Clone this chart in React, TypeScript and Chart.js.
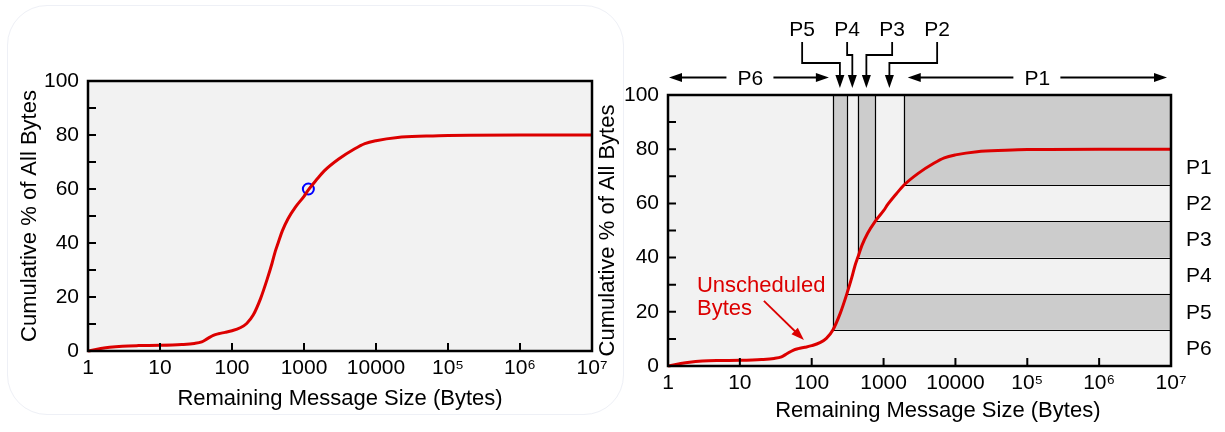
import React, { useEffect, useRef } from 'react';
import { Chart, registerables } from 'chart.js';

Chart.register(...registerables);

const FONT = "'Liberation Sans', Arial, Helvetica, sans-serif";
Chart.defaults.font.family = FONT;
Chart.defaults.color = '#000';

// ---- data ----
const messageSizes = [1, 1.5, 2, 3, 5, 10, 20, 30, 38, 45, 55, 65, 80, 100, 130, 160, 197, 250, 309, 360, 400, 437, 500, 600, 760, 1000, 1150, 1500, 1910, 3000, 5000, 7000, 10000, 20000, 50000, 100000, 1000000, 10000000];
const cumulativePct = [0, 0.9, 1.4, 1.8, 2.0, 2.1, 2.4, 2.8, 3.4, 4.5, 5.8, 6.4, 6.9, 7.5, 8.6, 10.2, 13.3, 19.5, 26.7, 32.5, 37, 40, 44.5, 49, 53.3, 57.3, 59.7, 63.5, 66.7, 71, 74.8, 76.8, 77.9, 79.1, 79.6, 79.85, 80, 80];

const markerSize = [1150];
const markerPct = [60];

const xTickValues = [1, 10, 100, 1000, 10000, 100000, 1000000, 10000000];
const xTickLabels = ['1', '10', '100', '1000', '10000', '10⁵', '10⁶', '10⁷'];
const yTickMarks = [10, 20, 30, 40, 50, 60, 70, 80, 90];

const priorityNames = ['P6', 'P5', 'P4', 'P3', 'P2', 'P1'];
const priorityStartSizes = [1, 197, 309, 437, 760, 1910];
const priorityStartPcts = [0, 13.33, 26.67, 40, 53.33, 66.67];
const priorityTopPct = 80;

const annotationText = ['Unscheduled', 'Bytes'];
const annotationTextAt = { size: 2.53, pct: 27.3 };
const annotationArrowFrom = { size: 21.6, pct: 24 };
const annotationArrowTo = { size: 78, pct: 9.6 };

const RED = '#dc0000';
const LIGHT = '#f2f2f2';
const DARK = '#cccccc';
const TITLE = 'Remaining Message Size (Bytes)';
const YTITLE = 'Cumulative % of All Bytes';

function arrowHead(ctx: CanvasRenderingContext2D, tx: number, ty: number, dx: number, dy: number, len = 13, half = 4.5) {
  const nx = -dy, ny = dx;
  ctx.beginPath();
  ctx.moveTo(tx, ty);
  ctx.lineTo(tx - dx * len + nx * half, ty - dy * len + ny * half);
  ctx.lineTo(tx - dx * len - nx * half, ty - dy * len - ny * half);
  ctx.closePath();
  ctx.fill();
}

function curveData() {
  return messageSizes.map((s, i) => ({ x: s, y: cumulativePct[i] }));
}

function drawFrameAndTicks(chart: any) {
  const { ctx, chartArea: a, scales } = chart;
  const xs = scales.x, ys = scales.y;
  ctx.save();
  ctx.strokeStyle = '#000';
  ctx.lineWidth = 2;
  ctx.beginPath();
  yTickMarks.forEach((v) => {
    const y = ys.getPixelForValue(v);
    ctx.moveTo(a.left, y);
    ctx.lineTo(a.left + 8, y);
  });
  xTickValues.slice(1, -1).forEach((v) => {
    const x = xs.getPixelForValue(v);
    ctx.moveTo(x, a.bottom);
    ctx.lineTo(x, a.bottom - 8);
  });
  ctx.stroke();
  ctx.lineWidth = 2.5;
  ctx.strokeRect(a.left, a.top, a.right - a.left, a.bottom - a.top);
  ctx.restore();
}

function makeScales(yWidth: number, xHeight: number, yTitlePad: number, xTitlePad: number, xTitleText: string) {
  return {
    x: {
      type: 'logarithmic',
      min: 1,
      max: 10000000,
      position: 'bottom',
      afterBuildTicks: (axis: any) => {
        axis.ticks = xTickValues.map((v) => ({ value: v }));
      },
      afterFit: (s: any) => { s.height = xHeight; },
      grid: { display: false, drawTicks: false },
      border: { display: false },
      ticks: {
        autoSkip: false,
        maxRotation: 0,
        padding: 4.5,
        font: { size: 21 },
        color: '#000',
        callback: (v: any) => {
          const i = xTickValues.indexOf(Number(v));
          return i >= 0 ? xTickLabels[i] : '';
        },
      },
      title: { display: true, text: xTitleText, font: { size: 22 }, color: '#000', padding: { top: 0, bottom: xTitlePad } },
    },
    y: {
      type: 'linear',
      min: 0,
      max: 100,
      afterFit: (s: any) => { s.width = yWidth; },
      grid: { display: false, drawTicks: false },
      border: { display: false },
      ticks: {
        stepSize: 10,
        padding: 9,
        font: { size: 21 },
        color: '#000',
        callback: (v: any) => (Number(v) % 20 === 0 ? String(v) : ''),
      },
      title: { display: true, text: YTITLE, font: { size: 22 }, color: '#000', padding: { top: yTitlePad, bottom: 0 } },
    },
  };
}

const leftPlugin = {
  id: 'leftDecor',
  beforeDraw(chart: any) {
    const { ctx, chartArea: a } = chart;
    ctx.save();
    ctx.fillStyle = LIGHT;
    ctx.fillRect(a.left, a.top, a.right - a.left, a.bottom - a.top);
    ctx.restore();
  },
  afterDatasetsDraw(chart: any) {
    drawFrameAndTicks(chart);
  },
};

const rightPlugin = {
  id: 'rightDecor',
  beforeDraw(chart: any) {
    const { ctx, chartArea: a, scales } = chart;
    const xs = scales.x, ys = scales.y;
    ctx.save();
    ctx.fillStyle = LIGHT;
    ctx.fillRect(a.left, a.top, a.right - a.left, a.bottom - a.top);
    for (let i = 1; i < priorityStartSizes.length; i++) {
      const x0 = xs.getPixelForValue(priorityStartSizes[i]);
      const y0 = ys.getPixelForValue(priorityStartPcts[i]);
      ctx.fillStyle = i % 2 === 1 ? DARK : LIGHT;
      ctx.fillRect(x0, a.top, a.right - x0, y0 - a.top);
    }
    ctx.strokeStyle = '#000';
    ctx.lineWidth = 1.2;
    for (let i = 1; i < priorityStartSizes.length; i++) {
      const x0 = Math.round(xs.getPixelForValue(priorityStartSizes[i])) + 0.5;
      const y0 = Math.round(ys.getPixelForValue(priorityStartPcts[i])) + 0.5;
      ctx.beginPath();
      ctx.moveTo(x0, a.top);
      ctx.lineTo(x0, y0);
      ctx.lineTo(a.right, y0);
      ctx.stroke();
    }
    ctx.restore();
  },
  afterDatasetsDraw(chart: any) {
    const { ctx, chartArea: a, scales } = chart;
    const xs = scales.x, ys = scales.y;
    drawFrameAndTicks(chart);
    ctx.save();
    ctx.fillStyle = '#000';
    ctx.strokeStyle = '#000';
    ctx.font = `21px ${FONT}`;
    ctx.textBaseline = 'middle';

    // right-side priority labels
    ctx.textAlign = 'left';
    for (let i = 0; i < priorityNames.length; i++) {
      const lo = priorityStartPcts[i];
      const hi = i + 1 < priorityStartPcts.length ? priorityStartPcts[i + 1] : priorityTopPct;
      ctx.fillText(priorityNames[i], a.right + 15, ys.getPixelForValue((lo + hi) / 2) + 1);
    }

    // wide arrows: P6 and P1
    const bounds = priorityStartSizes.map((s) => xs.getPixelForValue(s)).concat([a.right]);
    const arrowY = a.top - 17.5;
    ctx.lineWidth = 1.8;
    ctx.textAlign = 'center';
    const wide = (idx: number, l: number, r: number) => {
      const mid = (bounds[idx] + bounds[idx + 1]) / 2;
      ctx.fillText(priorityNames[idx], mid, arrowY + 1.5);
      ctx.beginPath();
      ctx.moveTo(l + 10, arrowY);
      ctx.lineTo(mid - 24, arrowY);
      ctx.moveTo(mid + 23, arrowY);
      ctx.lineTo(r - 10, arrowY);
      ctx.stroke();
      arrowHead(ctx, l, arrowY, -1, 0);
      arrowHead(ctx, r, arrowY, 1, 0);
    };
    wide(0, bounds[0] + 1, bounds[1] - 4);
    wide(5, bounds[5] + 4, bounds[6] - 4);

    // elbow arrows for P5..P2
    const tips = [1, 2, 3, 4].map((i) => (bounds[i] + bounds[i + 1]) / 2);
    const center = (tips[0] + tips[3]) / 2 + 5;
    const labelY = a.top - 65;
    const elbowY = [a.top - 32, a.top - 40, a.top - 40, a.top - 32];
    const tipY = a.top - 7;
    for (let k = 0; k < 4; k++) {
      const lx = center + (k - 1.5) * 45;
      ctx.fillText(priorityNames[k + 1], lx, labelY);
      ctx.beginPath();
      ctx.moveTo(lx, labelY + 12);
      ctx.lineTo(lx, elbowY[k]);
      ctx.lineTo(tips[k], elbowY[k]);
      ctx.lineTo(tips[k], tipY - 10);
      ctx.stroke();
      arrowHead(ctx, tips[k], tipY, 0, 1);
    }

    // Unscheduled bytes annotation
    ctx.fillStyle = RED;
    ctx.strokeStyle = RED;
    ctx.font = `22px ${FONT}`;
    ctx.textAlign = 'left';
    ctx.textBaseline = 'alphabetic';
    const tx = xs.getPixelForValue(annotationTextAt.size);
    const ty = ys.getPixelForValue(annotationTextAt.pct);
    annotationText.forEach((t, i) => ctx.fillText(t, tx, ty + i * 23));
    const fx = xs.getPixelForValue(annotationArrowFrom.size), fy = ys.getPixelForValue(annotationArrowFrom.pct);
    const ex = xs.getPixelForValue(annotationArrowTo.size), ey = ys.getPixelForValue(annotationArrowTo.pct);
    const len = Math.hypot(ex - fx, ey - fy);
    const dx = (ex - fx) / len, dy = (ey - fy) / len;
    ctx.lineWidth = 1.8;
    ctx.beginPath();
    ctx.moveTo(fx, fy);
    ctx.lineTo(ex - dx * 10, ey - dy * 10);
    ctx.stroke();
    arrowHead(ctx, ex, ey, dx, dy, 13, 4.5);
    ctx.restore();
  },
};

export default function App() {
  const leftRef = useRef<HTMLCanvasElement>(null);
  const rightRef = useRef<HTMLCanvasElement>(null);

  useEffect(() => {
    const left = new Chart(leftRef.current as HTMLCanvasElement, {
      type: 'line',
      data: {
        datasets: [
          {
            data: curveData(),
            borderColor: RED,
            borderWidth: 3,
            pointRadius: 0,
            cubicInterpolationMode: 'monotone',
            fill: false,
            clip: false,
          } as any,
          {
            data: markerSize.map((s, i) => ({ x: s, y: markerPct[i] })),
            showLine: false,
            pointRadius: 5.5,
            pointBorderWidth: 2,
            pointBorderColor: '#0000ff',
            pointBackgroundColor: 'rgba(0,0,0,0)',
            clip: false,
          } as any,
        ],
      },
      options: {
        responsive: false,
        animation: false,
        devicePixelRatio: 1,
        layout: { padding: { left: 0, top: 81, right: 28, bottom: 0 } },
        plugins: { legend: { display: false }, tooltip: { enabled: false } },
        scales: makeScales(88, 81, 16.8, 19.8, TITLE) as any,
      },
      plugins: [leftPlugin],
    });

    const right = new Chart(rightRef.current as HTMLCanvasElement, {
      type: 'line',
      data: {
        datasets: [
          {
            data: curveData(),
            borderColor: RED,
            borderWidth: 3,
            pointRadius: 0,
            cubicInterpolationMode: 'monotone',
            fill: false,
            clip: false,
          } as any,
        ],
      },
      options: {
        responsive: false,
        animation: false,
        devicePixelRatio: 1,
        layout: { padding: { left: 0, top: 95, right: 54, bottom: 0 } },
        plugins: { legend: { display: false }, tooltip: { enabled: false } },
        scales: makeScales(78, 66, 4.8, 7.8, '      ' + TITLE) as any,
      },
      plugins: [rightPlugin],
    });

    return () => {
      left.destroy();
      right.destroy();
    };
  }, []);

  return (
    <div style={{ position: 'fixed', left: 0, top: 0, width: 1225, height: 432, background: '#fff', overflow: 'hidden' }}>
      <div
        style={{
          position: 'absolute',
          left: 7,
          top: 5,
          width: 617,
          height: 410,
          border: '1px solid #eef0f6',
          borderRadius: 40,
          boxSizing: 'border-box',
        }}
      />
      <canvas ref={leftRef} width={620} height={432} style={{ position: 'absolute', left: 0, top: 0 }} />
      <canvas ref={rightRef} width={635} height={432} style={{ position: 'absolute', left: 590, top: 0 }} />
    </div>
  );
}
